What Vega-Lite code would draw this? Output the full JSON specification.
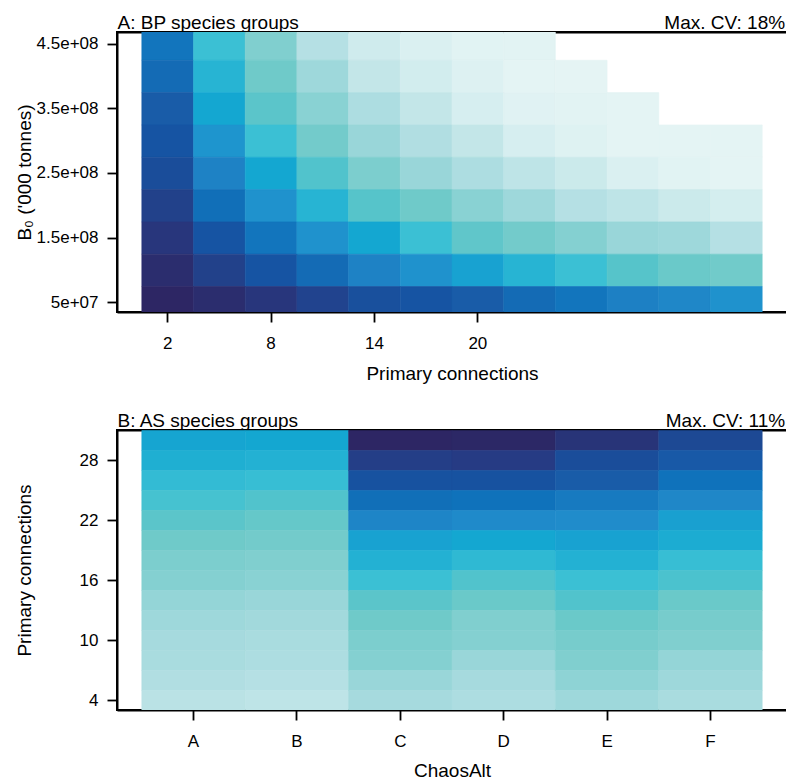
{
  "$schema": "https://vega.github.io/schema/vega-lite/v6.json",
  "padding": {"left": 14, "top": 12, "right": 0, "bottom": 0},
  "spacing": 26,
  "datasets": {
    "bp": [
      {"pc":2,"b0":450000000,"v":0.31},{"pc":2,"b0":400000000,"v":0.28},{"pc":2,"b0":350000000,"v":0.23},{"pc":2,"b0":300000000,"v":0.20},{"pc":2,"b0":250000000,"v":0.17},{"pc":2,"b0":200000000,"v":0.12},{"pc":2,"b0":150000000,"v":0.08},{"pc":2,"b0":100000000,"v":0.04},{"pc":2,"b0":50000000,"v":0.00},
      {"pc":5,"b0":450000000,"v":0.60},{"pc":5,"b0":400000000,"v":0.55},{"pc":5,"b0":350000000,"v":0.50},{"pc":5,"b0":300000000,"v":0.43},{"pc":5,"b0":250000000,"v":0.36},{"pc":5,"b0":200000000,"v":0.29},{"pc":5,"b0":150000000,"v":0.20},{"pc":5,"b0":100000000,"v":0.12},{"pc":5,"b0":50000000,"v":0.04},
      {"pc":8,"b0":450000000,"v":0.74},{"pc":8,"b0":400000000,"v":0.70},{"pc":8,"b0":350000000,"v":0.66},{"pc":8,"b0":300000000,"v":0.60},{"pc":8,"b0":250000000,"v":0.50},{"pc":8,"b0":200000000,"v":0.42},{"pc":8,"b0":150000000,"v":0.31},{"pc":8,"b0":100000000,"v":0.20},{"pc":8,"b0":50000000,"v":0.08},
      {"pc":11,"b0":450000000,"v":0.86},{"pc":11,"b0":400000000,"v":0.80},{"pc":11,"b0":350000000,"v":0.76},{"pc":11,"b0":300000000,"v":0.71},{"pc":11,"b0":250000000,"v":0.64},{"pc":11,"b0":200000000,"v":0.55},{"pc":11,"b0":150000000,"v":0.42},{"pc":11,"b0":100000000,"v":0.28},{"pc":11,"b0":50000000,"v":0.13},
      {"pc":14,"b0":450000000,"v":0.92},{"pc":14,"b0":400000000,"v":0.89},{"pc":14,"b0":350000000,"v":0.84},{"pc":14,"b0":300000000,"v":0.79},{"pc":14,"b0":250000000,"v":0.73},{"pc":14,"b0":200000000,"v":0.65},{"pc":14,"b0":150000000,"v":0.50},{"pc":14,"b0":100000000,"v":0.36},{"pc":14,"b0":50000000,"v":0.18},
      {"pc":17,"b0":450000000,"v":0.95},{"pc":17,"b0":400000000,"v":0.93},{"pc":17,"b0":350000000,"v":0.89},{"pc":17,"b0":300000000,"v":0.85},{"pc":17,"b0":250000000,"v":0.79},{"pc":17,"b0":200000000,"v":0.70},{"pc":17,"b0":150000000,"v":0.60},{"pc":17,"b0":100000000,"v":0.42},{"pc":17,"b0":50000000,"v":0.20},
      {"pc":20,"b0":450000000,"v":0.975},{"pc":20,"b0":400000000,"v":0.96},{"pc":20,"b0":350000000,"v":0.94},{"pc":20,"b0":300000000,"v":0.89},{"pc":20,"b0":250000000,"v":0.84},{"pc":20,"b0":200000000,"v":0.76},{"pc":20,"b0":150000000,"v":0.67},{"pc":20,"b0":100000000,"v":0.48},{"pc":20,"b0":50000000,"v":0.23},
      {"pc":23,"b0":450000000,"v":0.98},{"pc":23,"b0":400000000,"v":0.985},{"pc":23,"b0":350000000,"v":0.97},{"pc":23,"b0":300000000,"v":0.94},{"pc":23,"b0":250000000,"v":0.88},{"pc":23,"b0":200000000,"v":0.80},{"pc":23,"b0":150000000,"v":0.71},{"pc":23,"b0":100000000,"v":0.55},{"pc":23,"b0":50000000,"v":0.28},
      {"pc":26,"b0":400000000,"v":0.99},{"pc":26,"b0":350000000,"v":0.98},{"pc":26,"b0":300000000,"v":0.965},{"pc":26,"b0":250000000,"v":0.91},{"pc":26,"b0":200000000,"v":0.86},{"pc":26,"b0":150000000,"v":0.75},{"pc":26,"b0":100000000,"v":0.60},{"pc":26,"b0":50000000,"v":0.31},
      {"pc":29,"b0":350000000,"v":0.985},{"pc":29,"b0":300000000,"v":0.985},{"pc":29,"b0":250000000,"v":0.95},{"pc":29,"b0":200000000,"v":0.88},{"pc":29,"b0":150000000,"v":0.79},{"pc":29,"b0":100000000,"v":0.65},{"pc":29,"b0":50000000,"v":0.35},
      {"pc":32,"b0":300000000,"v":0.985},{"pc":32,"b0":250000000,"v":0.975},{"pc":32,"b0":200000000,"v":0.91},{"pc":32,"b0":150000000,"v":0.80},{"pc":32,"b0":100000000,"v":0.69},{"pc":32,"b0":50000000,"v":0.38},
      {"pc":35,"b0":300000000,"v":0.985},{"pc":35,"b0":250000000,"v":0.985},{"pc":35,"b0":200000000,"v":0.935},{"pc":35,"b0":150000000,"v":0.86},{"pc":35,"b0":100000000,"v":0.705},{"pc":35,"b0":50000000,"v":0.42}
    ],
    "as": [
      {"alt":"A","pc":30,"v":0.49},{"alt":"A","pc":28,"v":0.53},{"alt":"A","pc":26,"v":0.58},{"alt":"A","pc":24,"v":0.62},{"alt":"A","pc":22,"v":0.66},{"alt":"A","pc":20,"v":0.70},{"alt":"A","pc":18,"v":0.73},{"alt":"A","pc":16,"v":0.75},{"alt":"A","pc":14,"v":0.78},{"alt":"A","pc":12,"v":0.80},{"alt":"A","pc":10,"v":0.82},{"alt":"A","pc":8,"v":0.83},{"alt":"A","pc":6,"v":0.85},{"alt":"A","pc":4,"v":0.87},
      {"alt":"B","pc":30,"v":0.50},{"alt":"B","pc":28,"v":0.54},{"alt":"B","pc":26,"v":0.59},{"alt":"B","pc":24,"v":0.64},{"alt":"B","pc":22,"v":0.68},{"alt":"B","pc":20,"v":0.71},{"alt":"B","pc":18,"v":0.74},{"alt":"B","pc":16,"v":0.76},{"alt":"B","pc":14,"v":0.79},{"alt":"B","pc":12,"v":0.81},{"alt":"B","pc":10,"v":0.83},{"alt":"B","pc":8,"v":0.84},{"alt":"B","pc":6,"v":0.86},{"alt":"B","pc":4,"v":0.88},
      {"alt":"C","pc":30,"v":0.00},{"alt":"C","pc":28,"v":0.11},{"alt":"C","pc":26,"v":0.19},{"alt":"C","pc":24,"v":0.29},{"alt":"C","pc":22,"v":0.37},{"alt":"C","pc":20,"v":0.48},{"alt":"C","pc":18,"v":0.54},{"alt":"C","pc":16,"v":0.60},{"alt":"C","pc":14,"v":0.66},{"alt":"C","pc":12,"v":0.70},{"alt":"C","pc":10,"v":0.73},{"alt":"C","pc":8,"v":0.75},{"alt":"C","pc":6,"v":0.79},{"alt":"C","pc":4,"v":0.82},
      {"alt":"D","pc":30,"v":0.01},{"alt":"D","pc":28,"v":0.10},{"alt":"D","pc":26,"v":0.19},{"alt":"D","pc":24,"v":0.30},{"alt":"D","pc":22,"v":0.39},{"alt":"D","pc":20,"v":0.50},{"alt":"D","pc":18,"v":0.57},{"alt":"D","pc":16,"v":0.64},{"alt":"D","pc":14,"v":0.69},{"alt":"D","pc":12,"v":0.74},{"alt":"D","pc":10,"v":0.75},{"alt":"D","pc":8,"v":0.79},{"alt":"D","pc":6,"v":0.82},{"alt":"D","pc":4,"v":0.84},
      {"alt":"E","pc":30,"v":0.07},{"alt":"E","pc":28,"v":0.17},{"alt":"E","pc":26,"v":0.23},{"alt":"E","pc":24,"v":0.33},{"alt":"E","pc":22,"v":0.40},{"alt":"E","pc":20,"v":0.48},{"alt":"E","pc":18,"v":0.54},{"alt":"E","pc":16,"v":0.60},{"alt":"E","pc":14,"v":0.64},{"alt":"E","pc":12,"v":0.69},{"alt":"E","pc":10,"v":0.72},{"alt":"E","pc":8,"v":0.74},{"alt":"E","pc":6,"v":0.77},{"alt":"E","pc":4,"v":0.80},
      {"alt":"F","pc":30,"v":0.15},{"alt":"F","pc":28,"v":0.22},{"alt":"F","pc":26,"v":0.30},{"alt":"F","pc":24,"v":0.38},{"alt":"F","pc":22,"v":0.47},{"alt":"F","pc":20,"v":0.52},{"alt":"F","pc":18,"v":0.59},{"alt":"F","pc":16,"v":0.63},{"alt":"F","pc":14,"v":0.69},{"alt":"F","pc":12,"v":0.72},{"alt":"F","pc":10,"v":0.74},{"alt":"F","pc":8,"v":0.78},{"alt":"F","pc":6,"v":0.80},{"alt":"F","pc":4,"v":0.83}
    ]
  },
  "vconcat": [
    {
      "width": 670,
      "height": 280,
      "data": {"name": "bp"},
      "layer": [
        {
          "mark": {"type": "rect", "clip": true, "strokeWidth": 0.6},
          "encoding": {
            "x": {"field": "pc", "type": "ordinal",
              "scale": {"type": "band", "paddingInner": 0, "paddingOuter": 0.48},
              "axis": {"orient": "bottom", "values": [2, 8, 14, 20], "labelAngle": 0, "labelBaseline": "alphabetic", "labelPadding": 26,
                "title": "Primary connections", "titleX": 335, "titleY": 67, "titleBaseline": "alphabetic"}},
            "y": {"field": "b0", "type": "quantitative",
              "bin": {"step": 50000000, "extent": [25000000, 475000000], "nice": false},
              "scale": {"domain": [34800000, 468000000], "nice": false, "zero": false},
              "axis": {"orient": "left", "values": [50000000, 150000000, 250000000, 350000000, 450000000],
                "labelExpr": "replace(format(datum.value, '.2~e'), 'e+', 'e+0')", "labelPadding": 9,
                "title": "B₀ ('000 tonnes)", "titleX": -87, "titleY": 140, "titleBaseline": "alphabetic", "titleAngle": 270}},
            "color": {"field": "v", "type": "quantitative", "legend": null,
              "scale": {"type": "linear", "interpolate": "rgb",
                "domain": [0,0.05,0.1,0.15,0.2,0.25,0.3,0.35,0.4,0.45,0.5,0.55,0.6,0.65,0.7,0.75,0.8,0.85,0.9,0.95,1],
                "range": ["#2d2664","#2a2f70","#263b84","#1d4994","#1654a3","#1b61ac","#0f72bb","#1d80c4","#208ccb","#1d9bd0","#14a7d1","#27b4d3","#3bc0d4","#56c4ca","#6fcac9","#84d0d1","#9ed8db","#b1dee2","#c7e8ea","#daf0f1","#e8f5f5"]}},
            "stroke": {"field": "v", "type": "quantitative", "legend": null,
              "scale": {"type": "linear", "interpolate": "rgb",
                "domain": [0,0.05,0.1,0.15,0.2,0.25,0.3,0.35,0.4,0.45,0.5,0.55,0.6,0.65,0.7,0.75,0.8,0.85,0.9,0.95,1],
                "range": ["#2d2664","#2a2f70","#263b84","#1d4994","#1654a3","#1b61ac","#0f72bb","#1d80c4","#208ccb","#1d9bd0","#14a7d1","#27b4d3","#3bc0d4","#56c4ca","#6fcac9","#84d0d1","#9ed8db","#b1dee2","#c7e8ea","#daf0f1","#e8f5f5"]}}
          }
        },
        {
          "mark": {"type": "rect", "opacity": 0, "clip": true},
          "encoding": {
            "x": {"field": "pc", "type": "ordinal",
              "axis": {"orient": "top", "labels": false, "ticks": false,
                "title": "A: BP species groups", "titleX": 0, "titleY": -3.4, "titleAlign": "left", "titleBaseline": "alphabetic", "titleAngle": 0}},
            "y": {"field": "b0", "type": "quantitative",
              "bin": {"step": 50000000, "extent": [25000000, 475000000], "nice": false},
              "axis": {"orient": "right", "labels": false, "ticks": false,
                "title": "Max. CV: 18%", "titleAngle": 0, "titleX": -2.4, "titleY": -3.4, "titleAlign": "right", "titleBaseline": "alphabetic"}}
          }
        }
      ],
      "resolve": {"axis": {"x": "independent", "y": "independent"}}
    },
    {
      "width": 670,
      "height": 280,
      "data": {"name": "as"},
      "layer": [
        {
          "mark": {"type": "rect", "clip": true, "strokeWidth": 0.6},
          "encoding": {
            "x": {"field": "alt", "type": "ordinal",
              "scale": {"type": "band", "paddingInner": 0, "paddingOuter": 0.24},
              "axis": {"orient": "bottom", "labelAngle": 0, "labelBaseline": "alphabetic", "labelPadding": 26,
                "title": "ChaosAlt", "titleX": 335, "titleY": 66, "titleBaseline": "alphabetic"}},
            "y": {"field": "pc", "type": "quantitative",
              "bin": {"step": 2, "extent": [3, 31], "nice": false},
              "scale": {"domain": [3, 31], "nice": false, "zero": false},
              "axis": {"orient": "left", "values": [4, 10, 16, 22, 28], "format": "d", "labelPadding": 9,
                "title": "Primary connections", "titleX": -87, "titleY": 140, "titleBaseline": "alphabetic", "titleAngle": 270}},
            "color": {"field": "v", "type": "quantitative", "legend": null,
              "scale": {"type": "linear", "interpolate": "rgb",
                "domain": [0,0.05,0.1,0.15,0.2,0.25,0.3,0.35,0.4,0.45,0.5,0.55,0.6,0.65,0.7,0.75,0.8,0.85,0.9,0.95,1],
                "range": ["#2d2664","#2a2f70","#263b84","#1d4994","#1654a3","#1b61ac","#0f72bb","#1d80c4","#208ccb","#1d9bd0","#14a7d1","#27b4d3","#3bc0d4","#56c4ca","#6fcac9","#84d0d1","#9ed8db","#b1dee2","#c7e8ea","#daf0f1","#e8f5f5"]}},
            "stroke": {"field": "v", "type": "quantitative", "legend": null,
              "scale": {"type": "linear", "interpolate": "rgb",
                "domain": [0,0.05,0.1,0.15,0.2,0.25,0.3,0.35,0.4,0.45,0.5,0.55,0.6,0.65,0.7,0.75,0.8,0.85,0.9,0.95,1],
                "range": ["#2d2664","#2a2f70","#263b84","#1d4994","#1654a3","#1b61ac","#0f72bb","#1d80c4","#208ccb","#1d9bd0","#14a7d1","#27b4d3","#3bc0d4","#56c4ca","#6fcac9","#84d0d1","#9ed8db","#b1dee2","#c7e8ea","#daf0f1","#e8f5f5"]}}
          }
        },
        {
          "mark": {"type": "rect", "opacity": 0, "clip": true},
          "encoding": {
            "x": {"field": "alt", "type": "ordinal",
              "axis": {"orient": "top", "labels": false, "ticks": false,
                "title": "B: AS species groups", "titleX": 0, "titleY": -3.4, "titleAlign": "left", "titleBaseline": "alphabetic", "titleAngle": 0}},
            "y": {"field": "pc", "type": "quantitative",
              "bin": {"step": 2, "extent": [3, 31], "nice": false},
              "axis": {"orient": "right", "labels": false, "ticks": false,
                "title": "Max. CV: 11%", "titleAngle": 0, "titleX": -2.4, "titleY": -3.4, "titleAlign": "right", "titleBaseline": "alphabetic"}}
          }
        }
      ],
      "resolve": {"axis": {"x": "independent", "y": "independent"}}
    }
  ],
  "config": {
    "font": "Liberation Sans",
    "view": {"stroke": "black", "strokeWidth": 2},
    "axis": {"grid": false, "domain": true, "domainColor": "black", "domainWidth": 2, "zindex": 1,
      "tickColor": "black", "tickWidth": 1.8, "tickSize": 10,
      "labelColor": "black", "titleColor": "black", "labelFontSize": 17, "titleFontSize": 19, "titleFontWeight": "normal",
      "labelFont": "Liberation Sans", "titleFont": "Liberation Sans"}
  }
}
